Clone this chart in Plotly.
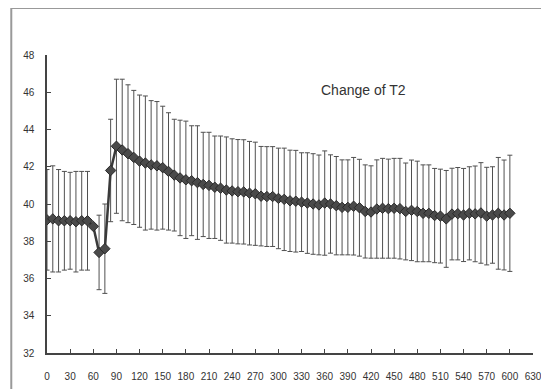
import plotly.graph_objects as go

time_s = [0, 7.5, 15, 22.5, 30, 37.5, 45, 52.5, 60, 67.5, 75, 82.5, 90, 97.5, 105, 112.5,
          120, 127.5, 135, 142.5, 150, 157.5, 165, 172.5, 180, 187.5, 195, 202.5, 210, 217.5,
          225, 232.5, 240, 247.5, 255, 262.5, 270, 277.5, 285, 292.5, 300, 307.5, 315, 322.5,
          330, 337.5, 345, 352.5, 360, 367.5, 375, 382.5, 390, 397.5, 405, 412.5, 420, 427.5,
          435, 442.5, 450, 457.5, 465, 472.5, 480, 487.5, 495, 502.5, 510, 517.5, 525, 532.5,
          540, 547.5, 555, 562.5, 570, 577.5, 585, 592.5, 600]

t2_mean = [39.15, 39.2, 39.1, 39.1, 39.1, 39.05, 39.1, 39.1, 38.8, 37.4, 37.6, 41.8,
           43.1, 42.9, 42.7, 42.5, 42.3, 42.2, 42.1, 42.05, 41.95, 41.75, 41.55, 41.4,
           41.3, 41.25, 41.15, 41.05, 41.0, 40.9, 40.85, 40.75, 40.7, 40.66, 40.65, 40.58,
           40.55, 40.42, 40.4, 40.4, 40.3, 40.25, 40.17, 40.15, 40.1, 40.05, 40.0, 39.95,
           40.05, 40.0, 39.91, 39.82, 39.82, 39.88, 39.8, 39.6, 39.57, 39.73, 39.77, 39.75,
           39.77, 39.75, 39.6, 39.66, 39.6, 39.5, 39.5, 39.38, 39.35, 39.2, 39.46, 39.48,
           39.41, 39.5, 39.47, 39.52, 39.35, 39.41, 39.5, 39.41, 39.5]

t2_sd = [2.7, 2.85, 2.75, 2.65, 2.6, 2.7, 2.65, 2.65, 0.0, 2.0, 2.4, 2.75,
         3.6, 3.8, 3.7, 3.6, 3.55, 3.6, 3.45, 3.45, 3.3, 3.15, 3.0, 3.1,
         3.15, 2.95, 3.05, 2.8, 2.85, 2.75, 2.8, 2.85, 2.8, 2.8, 2.8, 2.78,
         2.77, 2.67, 2.68, 2.68, 2.7, 2.75, 2.72, 2.73, 2.65, 2.7, 2.7, 2.68,
         2.8, 2.64, 2.64, 2.55, 2.55, 2.62, 2.6, 2.5, 2.48, 2.64, 2.68, 2.66,
         2.68, 2.7, 2.6, 2.7, 2.7, 2.6, 2.6, 2.53, 2.52, 2.6, 2.46, 2.48,
         2.5, 2.5, 2.57, 2.7, 2.62, 2.59, 3.0, 2.95, 3.12]

chart_title = "Change of T2"
x_ticks = list(range(0, 631, 30))
y_ticks = [32, 34, 36, 38, 40, 42, 44, 46, 48]

fig = go.Figure()
fig.add_trace(go.Scatter(
    x=time_s, y=t2_mean,
    mode="lines+markers",
    line=dict(color="#3a3a3a", width=2.5),
    marker=dict(symbol="diamond", size=8, color="#4a4a4a",
                line=dict(color="#2a2a2a", width=1)),
    error_y=dict(type="data", array=t2_sd, visible=True,
                 color="#505050", thickness=1, width=2.5),
    showlegend=False,
))

axis_font = dict(family="Liberation Sans, Arial, sans-serif", size=10, color="#333333")

fig.update_layout(
    width=541, height=381,
    margin=dict(l=39, r=16, t=47, b=36),
    paper_bgcolor="white", plot_bgcolor="white",
    xaxis=dict(range=[0, 630], tickvals=x_ticks, ticktext=[str(v) for v in x_ticks],
               showgrid=False, zeroline=False, showline=True, automargin=False,
               linecolor="#444444", linewidth=1.5,
               ticks="inside", ticklen=4, tickcolor="#444444", tickwidth=1,
               tickfont=axis_font, ticklabelstandoff=13),
    yaxis=dict(range=[32, 48], tickvals=y_ticks, ticktext=[str(v) for v in y_ticks],
               showgrid=False, zeroline=False, showline=True, automargin=False,
               linecolor="#444444", linewidth=1.5,
               ticks="inside", ticklen=4, tickcolor="#444444", tickwidth=1,
               tickfont=axis_font, ticklabelstandoff=9),
    annotations=[dict(text=chart_title, xref="paper", yref="paper",
                      x=0.651, y=0.883, xanchor="center", yanchor="middle",
                      showarrow=False,
                      font=dict(family="Liberation Sans, Arial, sans-serif",
                                size=14, color="#333333"))],
    shapes=[dict(type="rect", xref="paper", yref="paper",
                 x0=-0.0735, x1=1.0294, y0=-0.14, y1=1.1576,
                 line=dict(color="#999999", width=2), fillcolor="rgba(0,0,0,0)")],
)

fig.write_html("out.html")
